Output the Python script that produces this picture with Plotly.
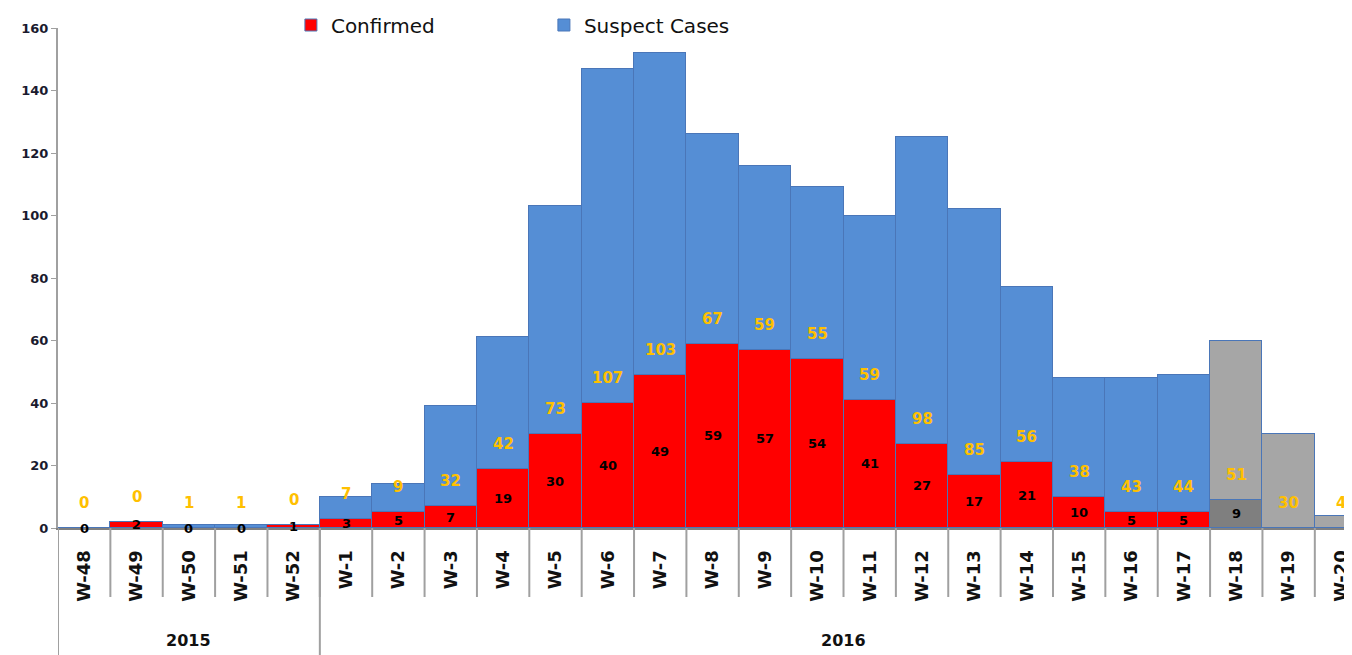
import plotly.graph_objects as go

weeks = ["W-48", "W-49", "W-50", "W-51", "W-52",
         "W-1", "W-2", "W-3", "W-4", "W-5", "W-6", "W-7", "W-8", "W-9", "W-10",
         "W-11", "W-12", "W-13", "W-14", "W-15", "W-16", "W-17", "W-18", "W-19", "W-20"]
years = ["2015"] * 5 + ["2016"] * 20
confirmed = [0, 2, 0, 0, 1, 3, 5, 7, 19, 30, 40, 49, 59, 57, 54, 41, 27, 17, 21, 10, 5, 5, 9, None, None]
suspect = [0, 0, 1, 1, 0, 7, 9, 32, 42, 73, 107, 103, 67, 59, 55, 59, 98, 85, 56, 38, 43, 44, 51, 30, 4]
provisional = [False] * 22 + [True] * 3
y_ticks = [0, 20, 40, 60, 80, 100, 120, 140, 160]

RED, BLUE = "#FF0000", "#558ED5"
DGREY, LGREY = "#7F7F7F", "#A6A6A6"
EDGE = "#4A76B8"
GOLD = "#FFC000"
FONT = "DejaVu Sans"

x = list(range(len(weeks)))
conf_colors = [DGREY if p else RED for p in provisional]
susp_colors = [LGREY if p else BLUE for p in provisional]

fig = go.Figure()
fig.add_trace(go.Bar(x=x, y=confirmed, name="Confirmed",
                     marker=dict(color=conf_colors, line=dict(color=EDGE, width=1)),
                     hoverinfo="skip"))
fig.add_trace(go.Bar(x=x, y=suspect, name="Suspect Cases",
                     marker=dict(color=susp_colors, line=dict(color=EDGE, width=1)),
                     hoverinfo="skip"))

annotations = []
for i, (c, s) in enumerate(zip(confirmed, suspect)):
    base = c if c is not None else 0
    annotations.append(dict(x=i, y=base, yshift=25, text="<b>%d</b>" % s, showarrow=False,
                            font=dict(family=FONT, size=15, color=GOLD)))
    if c is not None:
        annotations.append(dict(x=i, y=c / 2, text="<b>%d</b>" % c, showarrow=False,
                                font=dict(family=FONT, size=13, color="black")))

# year group labels
groups = []
for i, yr in enumerate(years):
    if not groups or groups[-1][0] != yr:
        groups.append([yr, i, i])
    else:
        groups[-1][2] = i
shapes = []
for yr, a, b in groups:
    annotations.append(dict(x=(a + b) / 2, y=-0.225, yref="paper", text="<b>%s</b>" % yr,
                            showarrow=False, yanchor="middle",
                            font=dict(family=FONT, size=16, color="#111")))
    shapes.append(dict(type="line", xref="x", yref="paper", x0=a - 0.5, x1=a - 0.5,
                       y0=0, y1=-0.28, line=dict(color="#A0A0A0", width=2)))

# category dividers
for i in range(1, len(weeks)):
    shapes.append(dict(type="line", xref="x", yref="paper", x0=i - 0.5, x1=i - 0.5,
                       y0=0, y1=-0.138, line=dict(color="#A0A0A0", width=2)))

fig.update_layout(
    width=1352, height=655,
    margin=dict(l=50, r=8, t=20, b=135, autoexpand=False),
    plot_bgcolor="white", paper_bgcolor="white",
    barmode="stack", bargap=0,
    showlegend=True,
    legend=dict(orientation="h", x=0.180, y=1.006, xanchor="left", yanchor="middle",
                traceorder="normal",
                font=dict(family=FONT, size=20, color="#111"),
                entrywidth=208, entrywidthmode="pixels", bgcolor="rgba(0,0,0,0)",
                itemclick=False),
    xaxis=dict(range=[-0.5, 24.21], tickmode="array", tickvals=x,
               ticktext=["<b>%s</b>" % w for w in weeks],
               tickangle=-90, showline=True, linecolor="#808080", linewidth=2,
               ticks="", showgrid=False, zeroline=False, ticklabelstandoff=13,
               tickfont=dict(family=FONT, size=18, color="#111")),
    yaxis=dict(range=[0, 160], tickvals=y_ticks,
               ticktext=["<b>%d</b>" % v for v in y_ticks],
               showline=True, linecolor="#A0A0A0",
               linewidth=2, ticks="outside", ticklen=5, tickcolor="#A0A0A0",
               showgrid=False, zeroline=False,
               tickfont=dict(family=FONT, size=13, color="#1a1a2e")),
    annotations=annotations,
    shapes=shapes,
)

fig.write_html("out.html")
